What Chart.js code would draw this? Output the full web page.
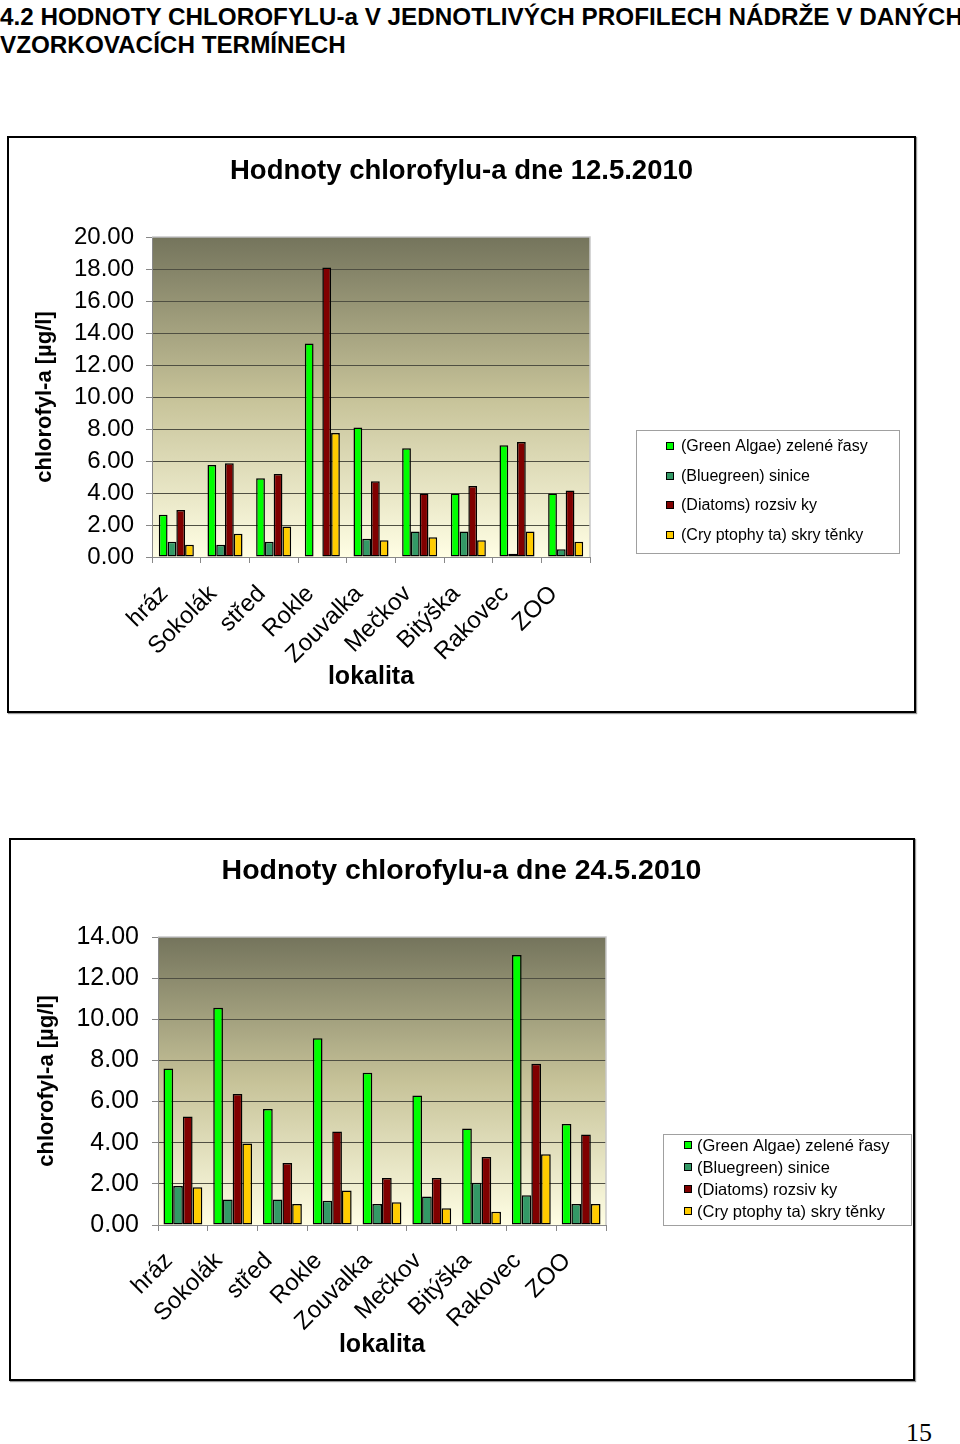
<!DOCTYPE html>
<html lang="cs">
<head>
<meta charset="utf-8">
<title>Hodnoty chlorofylu-a</title>
<script src="https://cdn.jsdelivr.net/npm/chart.js@4.4.1/dist/chart.umd.min.js"></script>
<style>
  body { margin: 0; width: 960px; height: 1444px; position: relative; background: #fff;
         font-family: "Liberation Sans", Arial, sans-serif; }
  h1 { position: absolute; left: 0; top: 3px; margin: 0; font-size: 24.25px; line-height: 28px;
       font-weight: bold; white-space: nowrap; }
  .box { position: absolute; border: 2px solid #000; box-sizing: border-box; box-shadow: 1px 1px 1px #999; }
  canvas { position: absolute; }
  .strana { position: absolute; left: 906px; top: 1418px; font-family: "Liberation Serif", serif; font-size: 26px; }
</style>
</head>
<body>
<h1>4.2 HODNOTY CHLOROFYLU-a V JEDNOTLIVÝCH PROFILECH NÁDRŽE V DANÝCH<br>VZORKOVACÍCH TERMÍNECH</h1>

<div class="box" style="left:7px; top:136px; width:909px; height:577px;"></div>
<canvas id="graf1" width="903" height="571" style="left:10px; top:139px;"></canvas>

<div class="box" style="left:9px; top:838px; width:906px; height:543px;"></div>
<canvas id="graf2" width="901" height="538" style="left:11px; top:840px;"></canvas>

<div class="strana">15</div>

<script>
const lokality = ['hráz', 'Sokolák', 'střed', 'Rokle', 'Zouvalka', 'Mečkov', 'Bitýška', 'Rakovec', 'ZOO'];
const skupiny = ['(Green Algae) zelené řasy', '(Bluegreen) sinice', '(Diatoms) rozsiv ky', '(Cry ptophy ta) skry těnky'];
const barvy = ['#00ff00', '#339966', '#800000', '#ffcc00'];

// 12.5.2010
const zelene1 = [2.64, 5.75, 4.92, 13.35, 8.10, 6.79, 3.97, 6.98, 3.97];
const sinice1 = [0.96, 0.77, 0.96, 0, 1.14, 1.60, 1.60, 0.21, 0.48];
const rozsivky1 = [2.93, 5.86, 5.19, 18.09, 4.74, 3.97, 4.44, 7.19, 4.15];
const skrytenky1 = [0.77, 1.45, 1.91, 7.75, 1.04, 1.23, 1.04, 1.60, 0.96];

// 24.5.2010
const zelene2 = [7.61, 10.56, 5.64, 9.08, 7.40, 6.30, 4.69, 13.13, 4.91];
const sinice2 = [1.89, 1.24, 1.24, 1.18, 1.02, 1.39, 2.05, 1.45, 1.02];
const rozsivky2 = [5.27, 6.37, 3.01, 4.54, 2.28, 2.28, 3.30, 7.84, 4.40];
const skrytenky2 = [1.83, 3.96, 1.02, 1.68, 1.10, 0.81, 0.65, 3.44, 1.02];

const yMax1 = 20;
const yMax2 = 14;
const yKrok = 2;

Chart.defaults.font.family = '"Liberation Sans", Arial, sans-serif';
Chart.defaults.color = '#000';

// gradient behind the plot area, like the Excel original
const pozadi = {
    id: 'pozadi',
    beforeDraw(chart) {
        const ctx = chart.ctx;
        const a = chart.chartArea;
        const g = ctx.createLinearGradient(0, a.top, 0, a.bottom);
        g.addColorStop(0, '#74745c');
        g.addColorStop(0.5, '#c6c298');
        g.addColorStop(1, '#fffee4');
        ctx.save();
        ctx.fillStyle = g;
        ctx.fillRect(a.left, a.top, a.width, a.height);
        ctx.restore();
    },
    afterDraw(chart) {
        const ctx = chart.ctx;
        const a = chart.chartArea;
        ctx.save();
        ctx.strokeStyle = '#c8c8c8';
        ctx.lineWidth = 1.5;
        ctx.beginPath();
        ctx.moveTo(a.left, a.top);
        ctx.lineTo(a.right, a.top);
        ctx.lineTo(a.right, a.bottom);
        ctx.stroke();
        ctx.restore();
    }
};

// boxed legend placed where Excel had it
const legenda = {
    id: 'legenda',
    afterDraw(chart, args, o) {
        const ctx = chart.ctx;
        ctx.save();
        ctx.strokeStyle = '#a0a0a0';
        ctx.lineWidth = 1;
        ctx.strokeRect(o.x + 0.5, o.y + 0.5, o.w, o.h);
        ctx.font = o.size + 'px "Liberation Sans", Arial, sans-serif';
        ctx.textBaseline = 'middle';
        chart.data.datasets.forEach((ds, i) => {
            const cy = Math.round(o.firstY + i * o.step);
            ctx.fillStyle = ds.backgroundColor;
            ctx.fillRect(o.boxX, cy - 4, 8, 8);
            ctx.strokeStyle = '#000';
            ctx.strokeRect(o.boxX + 0.5, cy - 3.5, 7, 7);
            ctx.fillStyle = '#000';
            ctx.fillText(ds.label, o.textX, cy + 1);
        });
        ctx.restore();
    }
};

function graf(id, titulek, rady, yMax, s) {
    const datasets = rady.map((r, i) => ({
        label: skupiny[i],
        data: r,
        backgroundColor: barvy[i],
        borderColor: '#000',
        borderWidth: 1.5,
        borderSkipped: false,
        barPercentage: 1,
        categoryPercentage: s.catPct
    }));
    return new Chart(document.getElementById(id), {
        type: 'bar',
        data: { labels: lokality, datasets: datasets },
        plugins: [pozadi, legenda],
        options: {
            responsive: false,
            animation: false,
            layout: { padding: 0 },
            plugins: {
                legend: { display: false },
                tooltip: { enabled: false },
                title: {
                    display: true,
                    text: titulek,
                    color: '#000',
                    font: { size: s.titleSize, weight: 'bold' },
                    padding: { top: s.titleTop, bottom: s.titleBottom }
                },
                legenda: s.legenda
            },
            scales: {
                x: {
                    ticks: {
                        color: '#000',
                        font: { size: 24 },
                        minRotation: 45,
                        maxRotation: 45,
                        autoSkip: false,
                        labelOffset: s.labelOffset,
                        padding: s.xTickPad
                    },
                    grid: { drawOnChartArea: false, tickLength: 6, tickColor: '#888', offset: true },
                    border: { color: '#888' },
                    title: {
                        display: true,
                        text: 'lokalita',
                        color: '#000',
                        font: { size: 25, weight: 'bold' },
                        padding: { top: 0, bottom: 18 }
                    },
                    afterFit: (sc) => { sc.height = s.xHeight; }
                },
                y: {
                    min: 0,
                    max: yMax,
                    ticks: {
                        stepSize: yKrok,
                        color: '#000',
                        font: { size: s.yTickSize },
                        padding: s.yTickPad,
                        callback: (v) => v.toFixed(2)
                    },
                    grid: { color: '#4f4f42', tickColor: '#888', tickLength: 6, lineWidth: 1 },
                    border: { color: '#888' },
                    title: {
                        display: true,
                        text: 'chlorofyl-a [µg/l]',
                        color: '#000',
                        font: { size: 22, weight: 'bold' },
                        padding: { top: s.yTitlePad, bottom: 0 }
                    },
                    afterFit: (sc) => { sc.width = s.yWidth; }
                },
                // empty strip on the right that holds the legend
                okraj: {
                    type: 'linear',
                    position: 'right',
                    ticks: { display: false },
                    grid: { display: false },
                    border: { display: false },
                    afterFit: (sc) => { sc.width = s.rightPad; }
                }
            }
        }
    });
}

graf('graf1', 'Hodnoty chlorofylu-a dne 12.5.2010',
    [zelene1, sinice1, rozsivky1, skrytenky1], yMax1, {
        catPct: 0.72, rightPad: 323,
        titleSize: 27.5, titleTop: 15.5, titleBottom: 49.5,
        labelOffset: -12, xTickPad: 17, xHeight: 153,
        yTickSize: 24, yTickPad: 12, yTitlePad: 22, yWidth: 142,
        legenda: { x: 626, y: 291, w: 263, h: 123, boxX: 656, textX: 671, firstY: 307, step: 29.5, size: 16 }
    });

graf('graf2', 'Hodnoty chlorofylu-a dne 24.5.2010',
    [zelene2, sinice2, rozsivky2, skrytenky2], yMax2, {
        catPct: 0.78, rightPad: 306,
        titleSize: 28.5, titleTop: 13.9, titleBottom: 48.9,
        labelOffset: -14, xTickPad: 16, xHeight: 153,
        yTickSize: 25, yTickPad: 13, yTitlePad: 22.8, yWidth: 147,
        legenda: { x: 652, y: 294, w: 248, h: 91, boxX: 673, textX: 686, firstY: 305, step: 22, size: 16.5 }
    });
</script>
</body>
</html>
